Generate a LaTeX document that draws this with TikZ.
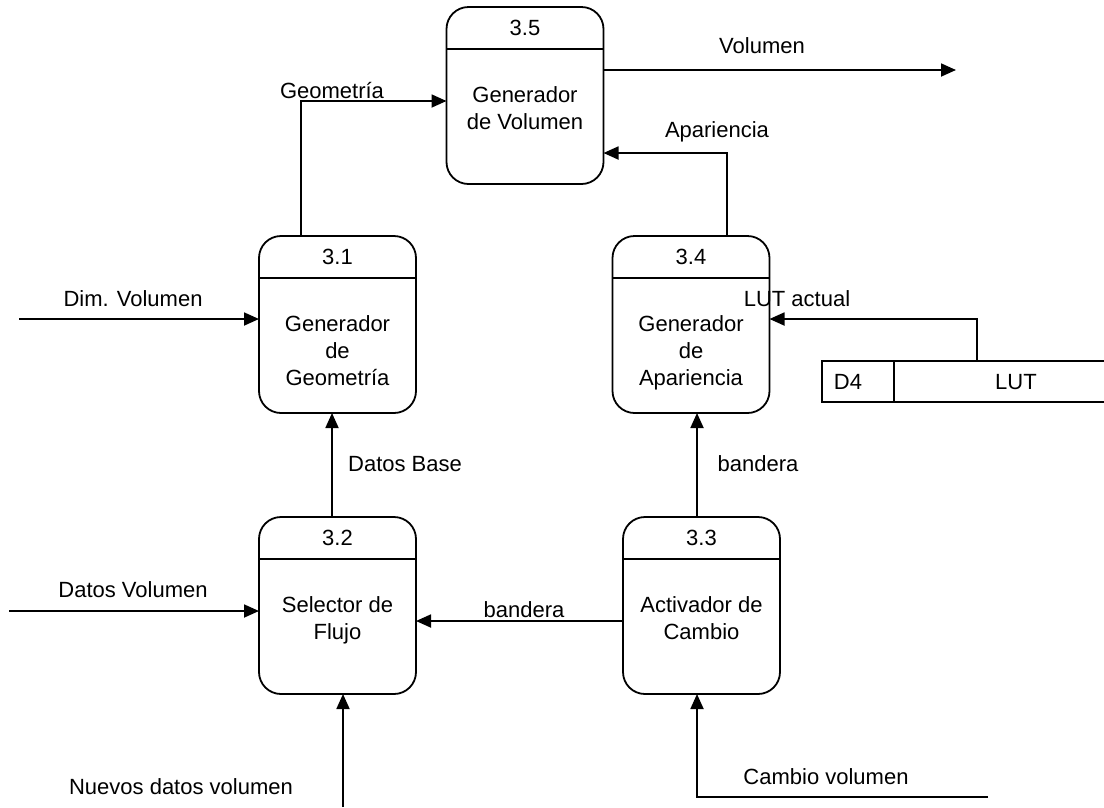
\documentclass[tikz,border=0pt]{standalone}
\usepackage{fontspec}
\setmainfont{Liberation Sans}
\usetikzlibrary{arrows.meta,calc}

% Process bubble: name, centre x, top y, number, description
\newcommand\procnode[5]{%
  \node[procbox] (#1) at (#2,#3+88.5) {};
  \draw ($(#1.north west)+(0,42)$) -- ($(#1.north east)+(0,42)$);
  \node (#1n) at ($(#1.north)+(0,21)$) {#4};
  \node[proctext] (#1t) at ($(#1.north)+(0,80)$) {#5};
}

\begin{document}
\begin{tikzpicture}[x=1pt,y=-1pt,
  line width=1.8pt,
  every node/.style={font=\fontsize{22}{27}\selectfont, inner sep=0pt, outer sep=0pt},
  procbox/.style={draw, rounded corners=22pt, minimum width=157pt, minimum height=177pt},
  proctext/.style={align=center, anchor=north},
  flow/.style={-{Triangle[length=15pt,width=13pt]}}]

\useasboundingbox (0,0) rectangle (1104,807);

% processes
\procnode{p35}{525}{7}{3.5}{Generador\\de Volumen}
\procnode{p31}{337.5}{236}{3.1}{Generador\\de\\Geometría}
\procnode{p34}{691}{236}{3.4}{Generador\\de\\Apariencia}
\procnode{p32}{337.5}{517}{3.2}{Selector de\\Flujo}
\procnode{p33}{701.5}{517}{3.3}{Activador de\\Cambio}

% data store D4
\draw (1104,361) -- (822,361) -- (822,402) -- (1104,402);
\draw (894,361) -- (894,402);
\node (d4id) at (848,382) {D4};
\node (d4name) at (1016,382) {LUT};
\coordinate (d4top) at (977,361);

% external ends
\coordinate (volOut) at (956,70);
\coordinate (dimIn) at (19,319);
\coordinate (datIn) at (9,611);
\coordinate (newIn) at (343,807);
\coordinate (chgIn) at (988,797);

% attachment points on the bubbles
\coordinate (geoFrom) at ($(p31.north)+(-36.5,0)$);
\coordinate (geoTo)   at ($(p35.west)+(0,5.5)$);
\coordinate (volFrom) at ($(p35.east)+(0,-25.5)$);
\coordinate (apaFrom) at ($(p34.north)+(36,0)$);
\coordinate (apaTo)   at ($(p35.east)+(0,57.5)$);
\coordinate (lutTo)   at ($(p34.east)+(0,-5.5)$);
\coordinate (baseFrom) at ($(p32.north)+(-5.5,0)$);
\coordinate (bandFrom) at ($(p33.north)+(-4.5,0)$);
\coordinate (flagFrom) at ($(p33.west)+(0,15.5)$);
\coordinate (chgTo)   at ($(p33.south)+(-4.5,0)$);

% flows
\draw[flow] (geoFrom) |- (geoTo);
\node (lgeo) at (332,91) {Geometría};

\draw[flow] (volFrom) -- (volOut);
\node (lvol) at (762,46) {Volumen};

\draw[flow] (apaFrom) |- (apaTo);
\node (lapa) at (717,132) {Apariencia};

\draw[flow] (dimIn) -- (dimIn -| p31.west);
\node (ldim) at (133,299) {Dim. Volumen};

\draw[flow] (d4top) |- (lutTo);
\node (llut) at (797,299) {LUT actual};

\draw[flow] (baseFrom) -- (baseFrom |- p31.south);
\node (lbase) at (405,464) {Datos Base};

\draw[flow] (bandFrom) -- (bandFrom |- p34.south);
\node (lband1) at (758,464) {bandera};

\draw[flow] (flagFrom) -- (flagFrom -| p32.east);
\node (lband2) at (524,610) {bandera};

\draw[flow] (datIn) -- (datIn -| p32.west);
\node (ldat) at (133,590) {Datos Volumen};

\draw[flow] (newIn) -- (newIn |- p32.south);
\node (lnew) at (181,787) {Nuevos datos volumen};

\draw[flow] (chgIn) -| (chgTo);
\node (lchg) at (826,777) {Cambio volumen};

\end{tikzpicture}
\end{document}
